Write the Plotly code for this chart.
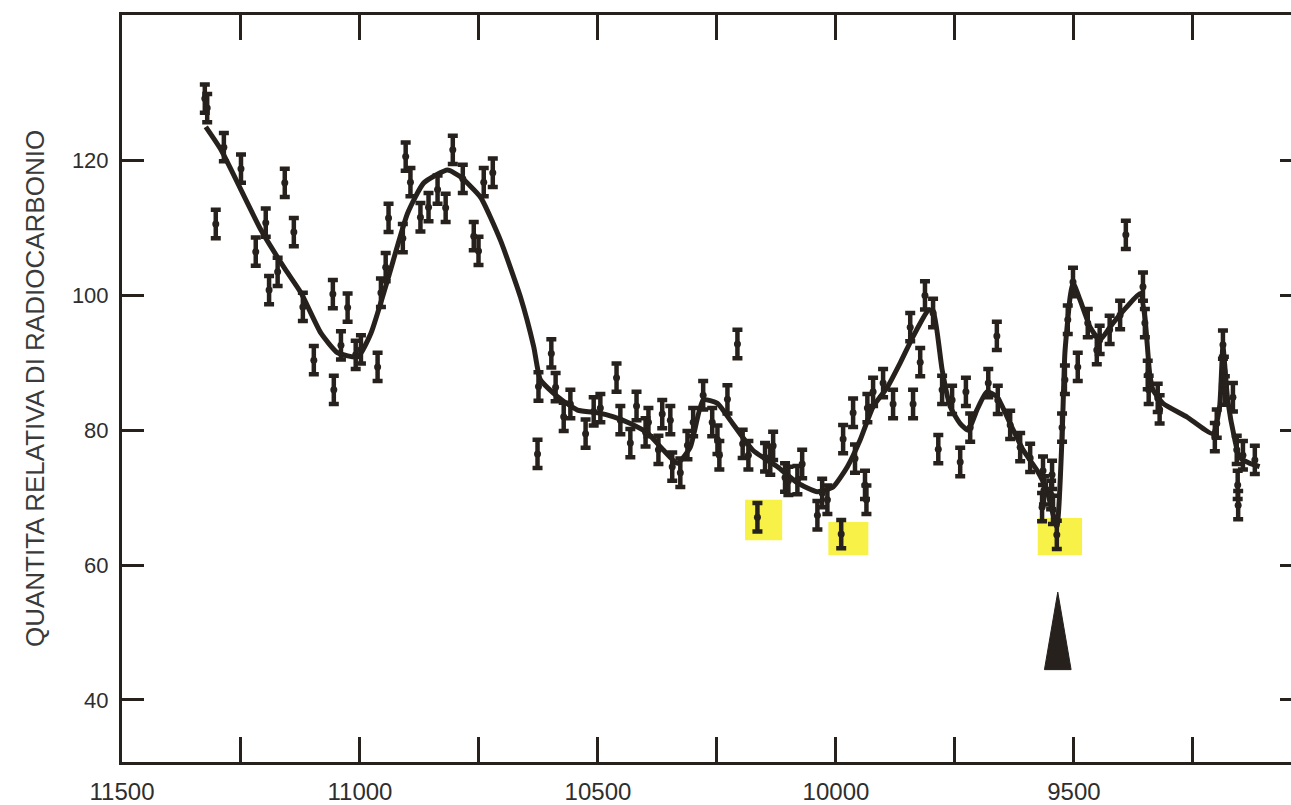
import plotly.graph_objects as go

# Measured radiocarbon samples (calendar years BP, relative quantity)
sample_years = [11326, 11321, 11286, 11303, 11250, 11219, 11198, 11191, 11173, 11158,
                11139, 11120, 11097, 11057, 11055, 11040, 11026, 11009, 10998, 10963,
                10956, 10946, 10940, 10910, 10904, 10894, 10873, 10856, 10837, 10820,
                10805, 10784, 10761, 10751, 10740, 10721,
                10627, 10625, 10598, 10589, 10572, 10558, 10526, 10509, 10495, 10461,
                10453, 10432, 10419, 10400, 10394, 10373, 10365, 10348, 10344, 10327,
                10312, 10300, 10279, 10260, 10249, 10245, 10228, 10207, 10196, 10184,
                10165, 10149, 10138, 10132, 10107, 10100, 10081, 10071, 10039, 10029,
                10018, 9989, 9985, 9964, 9960, 9939, 9936, 9934, 9922, 9901,
                9880, 9844, 9838, 9823, 9813, 9796, 9785, 9777, 9756, 9739,
                9727, 9718, 9680, 9662, 9660, 9634, 9613, 9592, 9567, 9565,
                9563, 9548, 9546, 9544, 9536, 9525, 9519, 9513, 9502, 9492,
                9471, 9452, 9446, 9425, 9403, 9391, 9355, 9351, 9345, 9343,
                9324, 9320, 9204, 9200, 9187, 9185, 9183, 9166, 9158, 9156,
                9155, 9145, 9120]
sample_values = [129.2, 127.8, 122.0, 110.6, 118.8, 106.5, 110.8, 100.8, 103.5, 116.7,
                 109.4, 98.3, 90.4, 100.2, 86.0, 92.6, 98.2, 91.2, 92.0, 89.4,
                 100.4, 104.2, 111.5, 108.5, 120.6, 116.8, 111.6, 113.1, 115.7, 113.0,
                 121.6, 117.3, 108.8, 106.6, 116.8, 118.2,
                 76.5, 86.5, 91.4, 86.4, 82.0, 83.9, 79.5, 82.8, 83.3, 87.8,
                 81.5, 78.1, 83.6, 79.7, 81.2, 77.1, 82.4, 81.5, 74.6, 73.7,
                 77.8, 81.2, 85.2, 81.2, 78.6, 76.3, 84.6, 92.8, 78.0, 76.3,
                 67.1, 76.0, 75.5, 77.7, 73.0, 72.5, 72.6, 75.0, 67.4, 70.7,
                 69.7, 64.6, 78.7, 82.6, 75.8, 71.9, 69.7, 83.3, 85.7, 87.0,
                 83.9, 95.3, 83.9, 90.1, 100.0, 97.4, 77.2, 86.0, 84.5, 75.3,
                 85.7, 80.4, 87.0, 94.0, 84.5, 80.8, 77.5, 75.9, 68.6, 74.0,
                 71.1, 70.4, 73.4, 68.2, 64.5, 80.4, 87.5, 96.4, 102.0, 89.4,
                 95.9, 91.9, 93.4, 94.9, 97.1, 109.0, 101.3, 95.9, 88.2, 86.0,
                 84.8, 83.1, 79.0, 81.0, 92.7, 88.8, 85.9, 84.9, 77.1, 71.9,
                 68.9, 76.3, 75.6]
sample_error = 2.1

# Fitted curve
curve_years = [11324, 11292, 11208, 11160, 11124, 11082, 11047, 11005, 10977, 10942,
               10900, 10866, 10816, 10789, 10747, 10705, 10663, 10635, 10621, 10585,
               10543, 10501, 10467, 10432, 10396, 10363, 10333, 10306, 10279, 10249,
               10222, 10174, 10123, 10081, 10039, 10006, 9976, 9949, 9922, 9892,
               9865, 9838, 9806, 9796, 9777, 9760, 9739, 9722, 9704, 9683,
               9662, 9634, 9607, 9578, 9557, 9536, 9525, 9519, 9508, 9502,
               9487, 9466, 9446, 9418, 9389, 9361, 9351, 9341, 9334, 9313,
               9263, 9208, 9194, 9187, 9177, 9162, 9152, 9131, 9110]
curve_values = [125.0, 121.6, 109.7, 104.2, 100.4, 94.4, 91.5, 90.9, 94.4, 102.3,
                112.2, 116.7, 118.6, 117.6, 114.6, 108.2, 99.8, 92.4, 87.5, 85.0,
                83.0, 82.6, 82.0, 81.0, 79.6, 77.1, 75.1, 77.5, 84.5, 84.0,
                81.5, 77.0, 74.6, 72.2, 70.9, 71.6, 74.6, 78.6, 83.5, 86.4,
                90.0, 93.9, 97.8, 97.8, 89.0, 83.5, 81.0, 80.0, 83.0, 85.7,
                85.0, 81.0, 77.1, 74.1, 71.1, 65.7, 79.0, 91.5, 99.8, 101.9,
                99.3, 95.3, 93.4, 95.9, 98.3, 100.3, 96.8, 88.5, 86.0, 84.0,
                82.0, 79.5, 83.5, 92.4, 84.5, 78.6, 76.0, 75.1, 74.6]

# Highlighted samples (yellow marker): [year_from, year_to, value_from, value_to]
highlights = [[10191, 10113, 63.7, 69.7],
              [10016, 9932, 61.5, 66.4],
              [9576, 9483, 61.5, 67.0]]

x_tick_vals = [11500, 11250, 11000, 10750, 10500, 10250, 10000, 9750, 9500, 9250]
x_tick_text = ["11500", "", "11000", "", "10500", "", "10000", "", "9500", ""]
y_tick_vals = [40, 60, 80, 100, 120]
y_tick_text = ["40", "60", "80", "100", "120"]

INK = "#26211d"
FONT = "Liberation Sans, Arial, Helvetica, sans-serif"

fig = go.Figure()

for h in highlights:
    fig.add_shape(type="rect", xref="x", yref="y",
                  x0=h[0], x1=h[1], y0=h[2], y1=h[3],
                  fillcolor="rgba(246,238,40,0.85)", line=dict(width=0), layer="below")

fig.add_trace(go.Scatter(
    x=curve_years, y=curve_values, mode="lines",
    line=dict(color=INK, width=5, shape="spline", smoothing=0.5),
    hoverinfo="skip", showlegend=False))

fig.add_trace(go.Scatter(
    x=sample_years, y=sample_values, mode="markers",
    marker=dict(color=INK, size=7, symbol="circle"),
    error_y=dict(type="constant", value=sample_error, color=INK, thickness=4.5, width=5),
    showlegend=False))

# arrow pointing to the 9500 minimum
arrow_x, arrow_half, arrow_tip, arrow_base = 9534, 28, 56, 44.5
fig.add_shape(type="path", xref="x", yref="y",
              path=f"M {arrow_x - arrow_half},{arrow_base} L {arrow_x},{arrow_tip} "
                   f"L {arrow_x + arrow_half},{arrow_base} Z",
              fillcolor=INK, line=dict(color=INK, width=1))

fig.update_layout(
    width=1291, height=805,
    margin=dict(l=122, r=0, t=15, b=43),
    paper_bgcolor="white", plot_bgcolor="white",
    font=dict(family=FONT, color="#2e2e2e"),
    xaxis=dict(range=[11500, 9044], tickmode="array", tickvals=x_tick_vals,
               ticktext=x_tick_text, ticks="inside", ticklen=25, tickwidth=3,
               tickcolor=INK, showline=True, linecolor=INK, linewidth=3,
               mirror="ticks", showgrid=False, zeroline=False,
               tickfont=dict(size=24, family=FONT, color="#2e2e2e"),
               ticklabelstandoff=6),
    yaxis=dict(range=[30.8, 141.6], tickmode="array", tickvals=y_tick_vals,
               ticktext=y_tick_text, ticks="inside", ticklen=22, tickwidth=3,
               tickcolor=INK, showline=True, linecolor=INK, linewidth=3,
               mirror=False, showgrid=False, zeroline=False,
               tickfont=dict(size=22, family=FONT, color="#2e2e2e"),
               ticklabelstandoff=6,
               title=dict(text="QUANTITA RELATIVA DI RADIOCARBONIO",
                          font=dict(size=26, family=FONT, color="#3a3a3a"),
                          standoff=20)),
    yaxis2=dict(range=[30.8, 141.6], overlaying="y", side="right",
                tickmode="array", tickvals=y_tick_vals, ticks="inside",
                ticklen=11, tickwidth=3, tickcolor=INK, showticklabels=False,
                showline=False, showgrid=False, zeroline=False),
)

# invisible trace to activate the right-hand tick axis
fig.add_trace(go.Scatter(x=[None], y=[None], yaxis="y2", showlegend=False, hoverinfo="skip"))

fig.write_html("out.html")
